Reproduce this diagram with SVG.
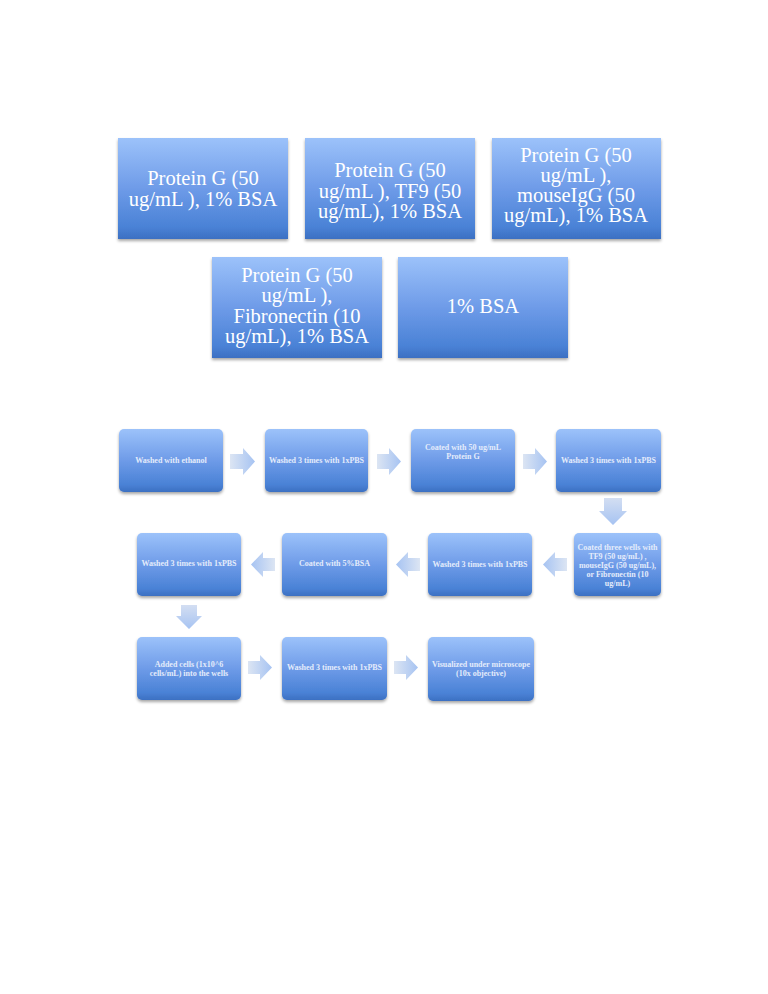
<svg xmlns="http://www.w3.org/2000/svg" width="768" height="994" viewBox="0 0 768 994">
<defs>
<linearGradient id="box" x1="0" y1="0" x2="0" y2="1">
<stop offset="0" stop-color="#9cc2fa"/>
<stop offset="0.5" stop-color="#6e9be8"/>
<stop offset="0.88" stop-color="#4a82d6"/>
<stop offset="1" stop-color="#3c70c2"/>
</linearGradient>
<linearGradient id="arR" x1="0" y1="0" x2="1" y2="0">
<stop offset="0" stop-color="#dce5f3"/>
<stop offset="1" stop-color="#a6c3f2"/>
</linearGradient>
<linearGradient id="arL" x1="1" y1="0" x2="0" y2="0">
<stop offset="0" stop-color="#dce5f3"/>
<stop offset="1" stop-color="#a6c3f2"/>
</linearGradient>
<linearGradient id="arD" x1="0" y1="0" x2="0" y2="1">
<stop offset="0" stop-color="#d3def2"/>
<stop offset="1" stop-color="#a6c3f2"/>
</linearGradient>
<filter id="sh" x="-10%" y="-10%" width="120%" height="130%">
<feDropShadow dx="0" dy="2" stdDeviation="1.5" flood-color="#000" flood-opacity="0.35"/>
</filter>
</defs>
<style>
.b{fill:url(#box);filter:url(#sh)}
.big{font-family:"Liberation Serif",serif;font-size:20.5px;fill:#fff;text-anchor:middle}
.sm{font-family:"Liberation Serif",serif;font-size:8px;font-weight:bold;fill:#e4ecfb;text-anchor:middle}
.ar{fill:url(#arR)}
.al{fill:url(#arL)}
.ad{fill:url(#arD)}
</style>
<rect width="768" height="994" fill="#fff"/>

<g id="t1"><rect class="b" x="118" y="138" width="170" height="101"/>
<text class="big" x="203" y="185">Protein G (50</text><text class="big" x="203" y="206">ug/mL ), 1% BSA</text></g>
<g id="t2"><rect class="b" x="305" y="138" width="170" height="101"/>
<text class="big" x="390" y="177">Protein G (50</text><text class="big" x="390" y="198">ug/mL ), TF9 (50</text><text class="big" x="390" y="218">ug/mL), 1% BSA</text></g>
<g id="t3"><rect class="b" x="492" y="138" width="169" height="101"/>
<text class="big" x="576" y="162">Protein G (50</text><text class="big" x="576" y="182">ug/mL ),</text><text class="big" x="576" y="202">mouseIgG (50</text><text class="big" x="576" y="222">ug/mL), 1% BSA</text></g>
<g id="t4"><rect class="b" x="212" y="257" width="170" height="101"/>
<text class="big" x="297" y="282">Protein G (50</text><text class="big" x="297" y="302">ug/mL ),</text><text class="big" x="297" y="323">Fibronectin (10</text><text class="big" x="297" y="343">ug/mL), 1% BSA</text></g>
<g id="t5"><rect class="b" x="398" y="257" width="170" height="101"/>
<text class="big" x="483" y="313">1% BSA</text></g>

<g id="s1"><rect class="b" x="119" y="429" width="104" height="63" rx="5"/><text class="sm" x="171" y="463">Washed with ethanol</text></g>
<g id="s2"><rect class="b" x="265" y="429" width="103" height="63" rx="5"/><text class="sm" x="316.5" y="463">Washed 3 times with 1xPBS</text></g>
<g id="s3"><rect class="b" x="411" y="429" width="104" height="63" rx="5"/><text class="sm" x="463" y="450">Coated with 50 ug/mL</text><text class="sm" x="463" y="459">Protein G</text></g>
<g id="s4"><rect class="b" x="556" y="429" width="105" height="63" rx="5"/><text class="sm" x="608.5" y="463">Washed 3 times with 1xPBS</text></g>
<g id="s5"><rect class="b" x="574" y="533" width="87" height="63" rx="5"/>
<text class="sm" x="617.5" y="550">Coated three wells with</text><text class="sm" x="617.5" y="559">TF9 (50 ug/mL) ,</text><text class="sm" x="617.5" y="568">mouseIgG (50 ug/mL),</text><text class="sm" x="617.5" y="577">or Fibronectin (10</text><text class="sm" x="617.5" y="586">ug/mL)</text></g>
<g id="s6"><rect class="b" x="428" y="533" width="104" height="63" rx="5"/><text class="sm" x="480" y="567">Washed 3 times with 1xPBS</text></g>
<g id="s7"><rect class="b" x="282" y="533" width="105" height="63" rx="5"/><text class="sm" x="334.5" y="566">Coated with 5%BSA</text></g>
<g id="s8"><rect class="b" x="137" y="533" width="104" height="63" rx="5"/><text class="sm" x="189" y="566">Washed 3 times with 1xPBS</text></g>
<g id="s9"><rect class="b" x="137" y="637" width="104" height="63" rx="5"/><text class="sm" x="189" y="667">Added cells (1x10^6</text><text class="sm" x="189" y="676">cells/mL) into the wells</text></g>
<g id="s10"><rect class="b" x="282" y="637" width="105" height="63" rx="5"/><text class="sm" x="334.5" y="670">Washed 3 times with 1xPBS</text></g>
<g id="s11"><rect class="b" x="428" y="637" width="106" height="64" rx="5"/><text class="sm" x="481" y="667">Visualized under microscope</text><text class="sm" x="481" y="676">(10x objective)</text></g>

<g id="connectors">
<path class="ar" d="M230,454 H243 V448 L255,461.5 L243,475 V469 H230 Z"/>
<path class="ar" d="M377,454 H389 V448 L401,461.5 L389,475 V469 H377 Z"/>
<path class="ar" d="M523,454 H535 V448 L547,461.5 L535,475 V469 H523 Z"/>
<path class="ad" d="M604,498 H622 V511 H627 L613,525 L599,511 H604 Z"/>
<path class="al" d="M567,558 H555 V552 L543,564.5 L555,577 V571 H567 Z"/>
<path class="al" d="M420,558 H408 V552 L396,564.5 L408,577 V571 H420 Z"/>
<path class="al" d="M275,558 H263 V552 L251,564.5 L263,577 V571 H275 Z"/>
<path class="ad" d="M181,605 H197 V616 H202 L189,629 L176,616 H181 Z"/>
<path class="ar" d="M248,661 H260 V655 L272,667.5 L260,680 V674 H248 Z"/>
<path class="ar" d="M394,661 H406 V655 L418,667.5 L406,680 V674 H394 Z"/>
</g>
</svg>
